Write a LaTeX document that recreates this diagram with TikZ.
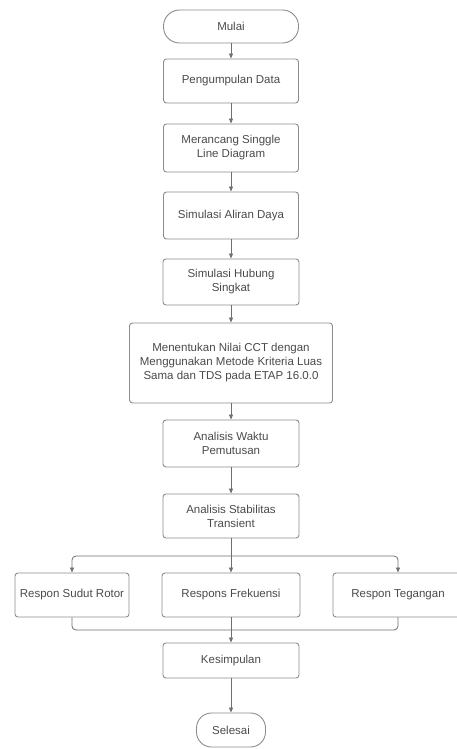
\documentclass[tikz,border=0pt]{standalone}
\usepackage{fontspec}
\setmainfont{Liberation Sans}
\usetikzlibrary{arrows.meta,positioning}
\definecolor{txt}{HTML}{4A4A4A}
\definecolor{ln}{HTML}{6E6E6E}
\definecolor{bx}{HTML}{8C8C8C}
\tikzset{
  box/.style={draw=bx, line width=0.9pt, rounded corners=3pt, inner sep=0pt, align=center,
    text=txt, font=\fontsize{11.5}{14}\selectfont},
  term/.style={box, rounded corners=16pt},
  arr/.style={draw=ln, line width=0.8pt, -{Triangle[length=5pt,width=4pt]}},
  conn/.style={draw=ln, line width=0.8pt}
}
\begin{document}
\begin{tikzpicture}[x=1pt,y=-1pt]
\useasboundingbox (0,0) rectangle (457,749);
\node[term, minimum width=135pt, minimum height=33pt] (mulai) at (231,26.5) {Mulai};
\node[box, minimum width=135pt, minimum height=44pt] (p1) at (231,81) {Pengumpulan Data};
\node[box, minimum width=135pt, minimum height=48pt] (p2) at (231,148) {Merancang Singgle\\Line Diagram};
\node[box, minimum width=135pt, minimum height=47pt] (p3) at (231,215.5) {Simulasi Aliran Daya};
\node[box, minimum width=136pt, minimum height=46pt] (p4) at (231,282) {Simulasi Hubung\\Singkat};
\node[box, minimum width=203pt, minimum height=80pt] (p5) at (231,363) {Menentukan Nilai CCT dengan\\Menggunakan Metode Kriteria Luas\\Sama dan TDS pada ETAP 16.0.0};
\node[box, minimum width=136pt, minimum height=47pt] (p6) at (231,443.5) {Analisis Waktu\\Pemutusan};
\node[box, minimum width=136pt, minimum height=44pt] (p7) at (231,516) {Analisis Stabilitas\\Transient};
\node[box, minimum width=114pt, minimum height=44pt] (L) at (72,595) {Respon Sudut Rotor};
\node[box, minimum width=138pt, minimum height=44pt] (M) at (231,595) {Respons Frekuensi};
\node[box, minimum width=130pt, minimum height=44pt] (R) at (398,595) {Respon Tegangan};
\node[box, minimum width=136pt, minimum height=35pt] (K) at (231,660.5) {Kesimpulan};
\node[term, minimum width=69pt, minimum height=34pt, rounded corners=15pt] (S) at (231,730) {Selesai};
\draw[arr] (mulai) -- (p1);
\draw[arr] (p1) -- (p2);
\draw[arr] (p2) -- (p3);
\draw[arr] (p3) -- (p4);
\draw[arr] (p4) -- (p5);
\draw[arr] (p5) -- (p6);
\draw[arr] (p6) -- (p7);
\coordinate (bj) at (231,556);
\draw[arr] (p7) -- (M);
\draw[arr, rounded corners=4pt] (bj) -| (L.north);
\draw[arr, rounded corners=4pt] (bj) -| (R.north);
\coordinate (mj) at (231,630);
\draw[conn, rounded corners=4pt] (L.south) |- (mj);
\draw[conn, rounded corners=4pt] (R.south) |- (mj);
\draw[arr] (M) -- (K);
\draw[arr] (K) -- (S);
\end{tikzpicture}
\end{document}
